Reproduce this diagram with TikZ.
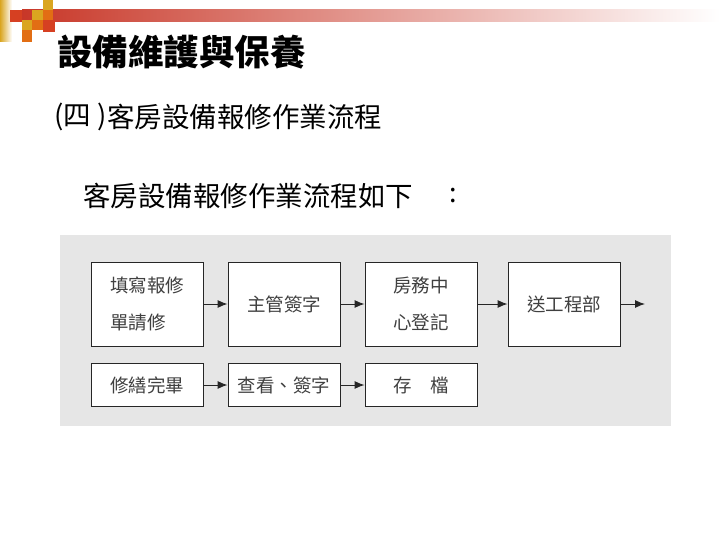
\documentclass[tikz,border=0pt]{standalone}
\usepackage{fontspec}
\setmainfont{Noto Sans CJK TC}
\usetikzlibrary{arrows.meta}
\definecolor{panel}{RGB}{230,230,230}
\definecolor{barred}{RGB}{200,55,40}
\definecolor{gold}{RGB}{218,165,32}
\definecolor{dred}{RGB}{214,64,34}
\definecolor{dorange}{RGB}{226,110,20}
\begin{document}
\begin{tikzpicture}[x=1pt,y=-1pt,
  box/.style={draw=black!85,line width=0.9pt,fill=white,minimum width=112pt,minimum height=84pt,inner sep=0pt,align=left,font=\fontsize{18.5}{37}\selectfont,text=black!75},
  sbox/.style={box,minimum height=43pt},
  arr/.style={-{Latex[length=10pt,width=8pt]},line width=1pt,draw=black!85},
  head/.style={anchor=west,inner sep=0pt,font=\fontsize{27.5}{27.5}\selectfont}]
\useasboundingbox (0,0) rectangle (720,540);
% header decoration
\shade[left color=barred,right color=white] (22,10) rectangle (720,22);
\shade[left color=gold,right color=white] (0,0) rectangle (12,42);
\fill[gold] (43,0) rectangle (53,10);
\fill[dred] (10,10) rectangle (22,22);
\fill[gold] (32,10) rectangle (43,20);
\fill[dorange] (43,10) rectangle (53,20);
\fill[gold] (22,20) rectangle (32,30);
\fill[dorange] (32,20) rectangle (43,30);
\fill[dred] (43,20) rectangle (55,32);
\fill[dorange] (22,30) rectangle (32,42);
% title
\node[anchor=west,inner sep=0pt,font=\fontsize{35.5}{35.5}\bfseries\selectfont] (title) at (57,52) {設備維護與保養};
\node[head] (subnum) at (54,117) {(四 )};
\node[head] (sub) at (107,117) {客房設備報修作業流程};
\node[head] (intro) at (83,196) {客房設備報修作業流程如下};
\node[inner sep=0pt,font=\fontsize{27}{27}\selectfont] (colon) at (453,196) {:};
% panel
\fill[panel] (60,235) rectangle (671,426);
% boxes
\node[box] (b1) at (147,304) {填寫報修\\單請修};
\node[box,align=center] (b2) at (284,304) {主管簽字};
\node[box,align=center] (b3) at (421,304) {房務中\\心登記};
\node[box,align=center] (b4) at (564,304) {送工程部};
\node[sbox] (b5) at (147,385) {修繕完畢};
\node[sbox] (b6) at (284,385) {查看、簽字};
\node[sbox] (b7) at (421,385) {存　檔};
\coordinate (out) at (645,304);
\draw[arr] (b1) -- (b2);
\draw[arr] (b2) -- (b3);
\draw[arr] (b3) -- (b4);
\draw[arr] (b4) -- (out);
\draw[arr] (b5) -- (b6);
\draw[arr] (b6) -- (b7);
\end{tikzpicture}
\end{document}
